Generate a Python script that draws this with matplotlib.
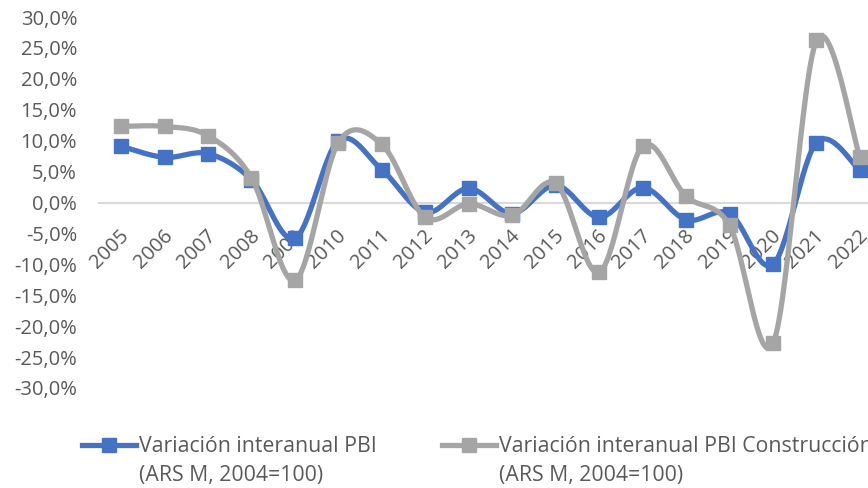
import matplotlib
matplotlib.use("Agg")
import matplotlib.pyplot as plt
import matplotlib.transforms as mtransforms
from matplotlib.lines import Line2D
import numpy as np

# data (% yoy)
years = [str(y) for y in range(2005, 2023)]
pbi = [9.1, 7.3, 7.9, 3.7, -5.8, 10.0, 5.3, -1.6, 2.3, -1.8, 2.8, -2.4, 2.4, -2.8, -1.8, -10.0, 9.7, 5.2]
pbi_constr = [12.3, 12.3, 10.8, 4.0, -12.6, 9.7, 9.4, -2.4, -0.2, -2.1, 3.1, -11.3, 9.1, 1.0, -3.7, -22.8, 26.2, 7.3]
yticks = list(range(-30, 35, 5))

blue = "#4472C4"
gray = "#A5A5A5"
txt = "#595959"
plt.rcParams["font.family"] = ["Open Sans", "DejaVu Sans"]


def smooth(x, y, n=30):
    # excel-like smoothed line (catmull-rom as cubic bezier)
    p = np.column_stack([x, y]).astype(float)
    pts = np.vstack([p[0], p, p[-1]])
    t = np.linspace(0, 1, n)[:, None]
    out = []
    for i in range(len(p) - 1):
        p0, p1, p2, p3 = pts[i], pts[i + 1], pts[i + 2], pts[i + 3]
        c1 = p1 + (p2 - p0) / 6
        c2 = p2 - (p3 - p1) / 6
        seg = (1 - t) ** 3 * p1 + 3 * (1 - t) ** 2 * t * c1 + 3 * (1 - t) * t ** 2 * c2 + t ** 3 * p2
        out.append(seg)
    out = np.vstack(out)
    return out[:, 0], out[:, 1]


fig = plt.figure(figsize=(8.68, 4.88), dpi=100)
ax = fig.add_axes([99.3 / 868, 100 / 488, 782.4 / 868, 371 / 488])

x = np.arange(len(years))
for vals, col, z in [(pbi, blue, 3), (pbi_constr, gray, 5)]:
    sx, sy = smooth(x, vals)
    ax.plot(sx, sy, color=col, lw=3.8, zorder=z, solid_capstyle="round")
    ax.plot(x, vals, ls="none", marker="s", ms=10, color=col, zorder=z + 0.5)

# spine position first: moving it resets the tick labels
for s in ["top", "right", "left"]:
    ax.spines[s].set_visible(False)
ax.spines["bottom"].set_position(("data", 0))
ax.spines["bottom"].set_color("#D9D9D9")
ax.spines["bottom"].set_linewidth(1.5)
ax.patch.set_alpha(0)

ax.tick_params(axis="both", length=0)
ax.tick_params(axis="x", pad=17)
ax.tick_params(axis="y", pad=16)

ax.set_xlim(-0.5, len(years) - 0.5)
ax.set_ylim(-30, 30)
ax.set_yticks(yticks)
ax.set_yticklabels([f"{v:.1f}%".replace(".", ",") for v in yticks], color=txt, fontsize=14.5)
ax.set_xticks(x)
ax.set_xticklabels(years, rotation=45, ha="right", va="top", rotation_mode="anchor",
                   color=txt, fontsize=14.5)
shift = mtransforms.ScaledTranslation(-2 / 100, 0, fig.dpi_scale_trans)
for lab in ax.get_xticklabels():
    lab.set_transform(lab.get_transform() + shift)
ax.xaxis.set_zorder(1)

# legend drawn by hand so the key sits on the first text line
labels = ["Variación interanual PBI\n(ARS M, 2004=100)",
          "Variación interanual PBI Construcción\n(ARS M, 2004=100)"]
for col, lab, x0 in [(blue, labels[0], 82), (gray, labels[1], 442)]:
    yk = 1 - 445 / 488
    fig.add_artist(Line2D([x0 / 868, (x0 + 54) / 868], [yk, yk], color=col, lw=3.8,
                          transform=fig.transFigure))
    fig.add_artist(Line2D([(x0 + 27) / 868], [yk], marker="s", ms=10, color=col,
                          transform=fig.transFigure))
    fig.text((x0 + 57) / 868, 1 - 436 / 488, lab, color=txt, fontsize=15.3,
             va="top", ha="left", linespacing=1.5)

fig.savefig("out.png", dpi=100)
